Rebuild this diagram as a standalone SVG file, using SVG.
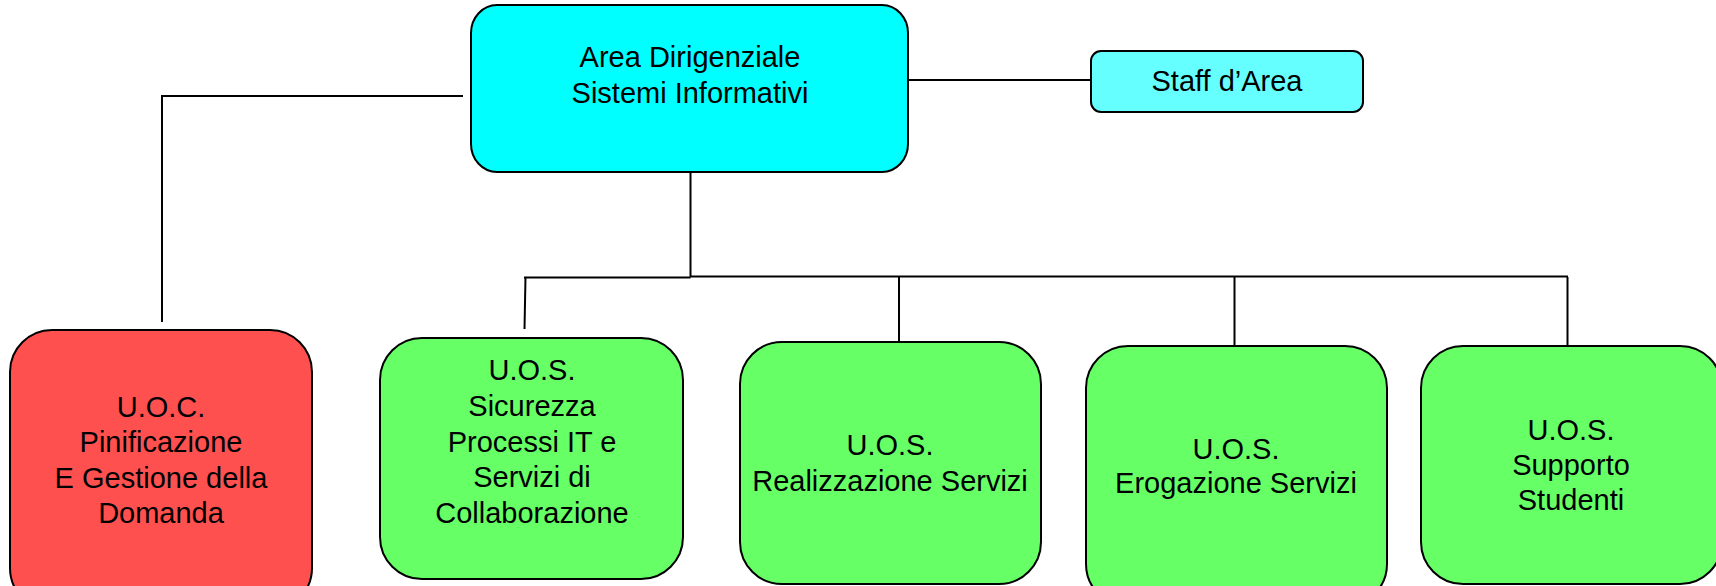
<svg xmlns="http://www.w3.org/2000/svg" width="1716" height="586" viewBox="0 0 1716 586">
<style>
.box{stroke:#000;stroke-width:2}
.main{fill:#00FFFF}
.staff{fill:#66FFFF}
.red{fill:#FF5050}
.green{fill:#66FF66}
.lbl{font-family:"Liberation Sans",Arial,sans-serif;font-size:29px;fill:#000;text-anchor:middle}
.conn{fill:none;stroke:#000;stroke-width:2}
</style>
<rect width="1716" height="586" fill="#fff"/>
<g id="connectors">
<path class="conn" d="M463,96 H162 V322"/>
<path class="conn" d="M908,80 H1091"/>
<path class="conn" d="M690.5,172 V277"/>
<path class="conn" d="M524,277.5 H690.5 M690.5,276.5 H1568"/>
<path class="conn" d="M525.5,277 L524.5,329"/>
<path class="conn" d="M899,277 V342"/>
<path class="conn" d="M1234.5,277 V346"/>
<path class="conn" d="M1567.5,277 V346"/>
</g>
<g id="node-main">
<rect class="box main" x="471" y="5" width="437" height="167" rx="26" ry="28"/>
<text class="lbl" x="690" y="67">Area Dirigenziale</text>
<text class="lbl" x="690" y="103">Sistemi Informativi</text>
</g>
<g id="node-staff">
<rect class="box staff" x="1091" y="51" width="272" height="61" rx="10" ry="10"/>
<text class="lbl" x="1227" y="91">Staff d’Area</text>
</g>
<g id="node-uoc">
<rect class="box red" x="10" y="330" width="302" height="280" rx="42" ry="42"/>
<text class="lbl" x="161" y="417">U.O.C.</text>
<text class="lbl" x="161" y="452">Pinificazione</text>
<text class="lbl" x="161" y="488">E Gestione della</text>
<text class="lbl" x="161" y="523">Domanda</text>
</g>
<g id="node-sicurezza">
<rect class="box green" x="380" y="338" width="303" height="241" rx="42" ry="42"/>
<text class="lbl" x="532" y="380">U.O.S.</text>
<text class="lbl" x="532" y="416">Sicurezza</text>
<text class="lbl" x="532" y="452">Processi IT e</text>
<text class="lbl" x="532" y="487">Servizi di</text>
<text class="lbl" x="532" y="523">Collaborazione</text>
</g>
<g id="node-realizzazione">
<rect class="box green" x="740" y="342" width="301" height="242" rx="42" ry="42"/>
<text class="lbl" x="890" y="455">U.O.S.</text>
<text class="lbl" x="890" y="491">Realizzazione Servizi</text>
</g>
<g id="node-erogazione">
<rect class="box green" x="1086" y="346" width="301" height="260" rx="42" ry="42"/>
<text class="lbl" x="1236" y="459">U.O.S.</text>
<text class="lbl" x="1236" y="493">Erogazione Servizi</text>
</g>
<g id="node-supporto">
<rect class="box green" x="1421" y="346" width="301" height="238" rx="42" ry="42"/>
<text class="lbl" x="1571" y="440">U.O.S.</text>
<text class="lbl" x="1571" y="475">Supporto</text>
<text class="lbl" x="1571" y="510">Studenti</text>
</g>
</svg>
